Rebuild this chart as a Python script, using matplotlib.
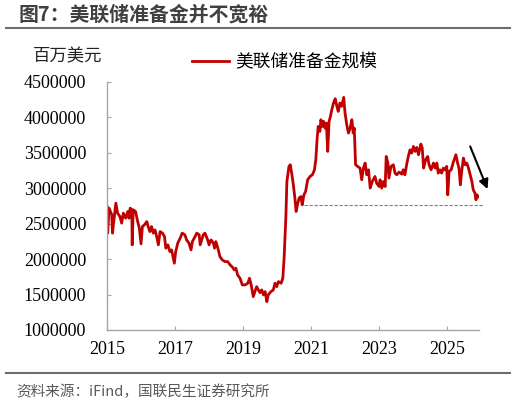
import matplotlib
matplotlib.use("Agg")
import matplotlib.pyplot as plt
from matplotlib.lines import Line2D

# Fed reserve balances, million USD (decimal year)
dates = [
    2015.00, 2015.02, 2015.06, 2015.14, 2015.16, 2015.26, 2015.31, 2015.38, 2015.43, 2015.48,
    2015.55, 2015.61, 2015.65, 2015.68, 2015.73, 2015.74, 2015.77, 2015.84, 2015.89, 2015.95,
    2016.00, 2016.04, 2016.10, 2016.17, 2016.21, 2016.26, 2016.31, 2016.36, 2016.41, 2016.46,
    2016.51, 2016.56, 2016.63, 2016.69, 2016.73, 2016.79, 2016.85, 2016.90, 2016.95, 2016.98,
    2017.02, 2017.08, 2017.15, 2017.21, 2017.29, 2017.34, 2017.41, 2017.47, 2017.51, 2017.59,
    2017.64, 2017.71, 2017.74, 2017.83, 2017.88, 2017.96, 2018.00, 2018.06, 2018.13, 2018.16,
    2018.20, 2018.26, 2018.32, 2018.39, 2018.47, 2018.55, 2018.62, 2018.69, 2018.74, 2018.79,
    2018.84, 2018.91, 2018.98, 2019.06, 2019.14, 2019.19, 2019.24, 2019.30, 2019.35, 2019.40,
    2019.45, 2019.50, 2019.55, 2019.60, 2019.65, 2019.70, 2019.74, 2019.82, 2019.89, 2019.94,
    2019.99, 2020.04, 2020.12, 2020.17, 2020.21, 2020.26, 2020.29, 2020.35, 2020.39, 2020.43,
    2020.48, 2020.53, 2020.56, 2020.61, 2020.65, 2020.70, 2020.74, 2020.79, 2020.84, 2020.90,
    2020.97, 2021.04, 2021.10, 2021.14, 2021.18, 2021.21, 2021.26, 2021.29, 2021.33, 2021.37,
    2021.41, 2021.45, 2021.49, 2021.53, 2021.57, 2021.61, 2021.66, 2021.71, 2021.76, 2021.80,
    2021.85, 2021.90, 2021.96, 2022.00, 2022.05, 2022.10, 2022.15, 2022.20, 2022.24, 2022.27,
    2022.31, 2022.37, 2022.44, 2022.49, 2022.54, 2022.59, 2022.64, 2022.69, 2022.74, 2022.80,
    2022.88, 2022.93, 2023.00, 2023.03, 2023.08, 2023.13, 2023.18, 2023.21, 2023.26, 2023.29,
    2023.35, 2023.42, 2023.47, 2023.52, 2023.59, 2023.67, 2023.71, 2023.76, 2023.81, 2023.86,
    2023.91, 2023.96, 2024.01, 2024.06, 2024.11, 2024.16, 2024.23, 2024.27, 2024.31, 2024.37,
    2024.43, 2024.47, 2024.53, 2024.60, 2024.65, 2024.70, 2024.74, 2024.79, 2024.84, 2024.89,
    2024.94, 2024.99, 2025.02, 2025.06, 2025.12, 2025.19, 2025.26, 2025.31, 2025.35, 2025.39,
    2025.43, 2025.48, 2025.53, 2025.58, 2025.63, 2025.68, 2025.73, 2025.77, 2025.82, 2025.85,
    2025.88, 2025.92,
]
reserves = [
    2740000, 2365000, 2718000, 2623000, 2365000, 2788000, 2647000, 2599000, 2506000, 2647000,
    2576000, 2670000, 2576000, 2718000, 2694000, 2200000, 2694000, 2670000, 2552000, 2435000,
    2214000, 2458000, 2482000, 2528000, 2458000, 2387000, 2458000, 2365000, 2411000, 2317000,
    2200000, 2387000, 2365000, 2317000, 2153000, 2200000, 2105000, 2129000, 2012000, 1941000,
    2105000, 2224000, 2294000, 2365000, 2341000, 2270000, 2224000, 2129000, 2246000, 2317000,
    2365000, 2341000, 2200000, 2341000, 2365000, 2270000, 2200000, 2270000, 2224000, 2153000,
    2246000, 2153000, 2034000, 1988000, 1964000, 1964000, 1917000, 1885000, 1847000, 1871000,
    1776000, 1730000, 1635000, 1635000, 1659000, 1730000, 1635000, 1470000, 1541000, 1611000,
    1565000, 1526000, 1565000, 1494000, 1541000, 1399000, 1494000, 1541000, 1565000, 1659000,
    1611000, 1682000, 1659000, 1730000, 2034000, 2599000, 3093000, 3305000, 3329000, 3211000,
    3046000, 2835000, 2670000, 2788000, 2859000, 2881000, 2764000, 2905000, 2952000, 3117000,
    3164000, 3188000, 3258000, 3399000, 3705000, 3869000, 3799000, 3964000, 3869000, 3940000,
    3846000, 3917000, 3517000, 3940000, 4011000, 4105000, 4199000, 4260000, 4152000, 4081000,
    4199000, 4152000, 4279000, 4058000, 3893000, 3776000, 3846000, 3964000, 3776000, 3846000,
    3329000, 3305000, 3282000, 3117000, 3282000, 3353000, 3188000, 3258000, 3000000, 3093000,
    3164000, 3070000, 3022000, 3117000, 3000000, 3093000, 3022000, 3446000, 3353000, 3141000,
    3305000, 3329000, 3211000, 3188000, 3226000, 3197000, 3258000, 3188000, 3329000, 3446000,
    3540000, 3494000, 3587000, 3517000, 3573000, 3470000, 3621000, 3564000, 3282000, 3399000,
    3446000, 3329000, 3258000, 3353000, 3282000, 3353000, 3211000, 3258000, 3211000, 3282000,
    3258000, 3305000, 2905000, 3234000, 3258000, 3375000, 3470000, 3353000, 3282000, 3046000,
    3234000, 3423000, 3329000, 3353000, 3282000, 3188000, 3093000, 2976000, 2929000, 2835000,
    2905000, 2881000,
]
ref_level = 2764000          # dashed reference line
ref_span = [2020.80, 2026.07]
arrow_from = (2025.68, 3587000)
arrow_to = (2026.19, 2986000)

year_ticks = [2015, 2017, 2019, 2021, 2023, 2025]
value_ticks = [1000000, 1500000, 2000000, 2500000, 3000000, 3500000, 4000000, 4500000]

cjk = ["Noto Sans CJK SC", "DejaVu Sans"]
serif = "Liberation Serif"
red = "#C00000"
grey = "#a6a6a6"

fig = plt.figure(figsize=(5.16, 4.01), dpi=100)
ax = fig.add_axes([0.2074, 0.1771, 0.7203, 0.6192])

ax.plot(dates, reserves, color=red, lw=2.0, label="美联储准备金规模")
ax.plot(ref_span, [ref_level, ref_level], ls=(0, (3, 1.5)), color="#7f7f7f",
        lw=0.8, clip_on=False)
ax.annotate("", xy=arrow_to, xytext=arrow_from, annotation_clip=False,
            arrowprops=dict(arrowstyle="-|>", color="black", lw=1.5,
                            mutation_scale=14, shrinkA=0, shrinkB=0))

ax.set_xlim(2015, 2025.93)
ax.set_ylim(1000000, 4500000)
ax.set_xticks(year_ticks)
ax.set_xticklabels([str(y) for y in year_ticks], fontfamily=serif, fontsize=13)
ax.set_yticks(value_ticks)
ax.set_yticklabels([str(v) for v in value_ticks], fontfamily=serif, fontsize=13)
ax.tick_params(axis="both", direction="in", length=3, color=grey, labelcolor="black")
ax.tick_params(axis="y", pad=15)
ax.tick_params(axis="x", pad=8)
for side in ["top", "right"]:
    ax.spines[side].set_visible(False)
for side in ["left", "bottom"]:
    ax.spines[side].set_color(grey)
    ax.spines[side].set_linewidth(1.0)

fig.legend(loc="center left", bbox_to_anchor=(0.372, 0.845), frameon=False,
           prop={"family": cjk, "size": 12.8}, handlelength=2.1,
           handletextpad=0.35, borderpad=0, borderaxespad=0)

fig.text(0.131, 0.859, "百万美元", ha="center", va="center",
         family=cjk, fontsize=12.5, color="#222222")

fig.text(0.035, 0.965, "图7：美联储准备金并不宽裕", ha="left", va="center",
         family=cjk, fontsize=14.3, fontweight="bold", color="#404040")
fig.add_artist(Line2D([0.012, 0.988], [0.929, 0.929], color="#6d6d6d", lw=1.5))
fig.add_artist(Line2D([0.012, 0.988], [0.069, 0.069], color="#6d6d6d", lw=1.5))
fig.text(0.031, 0.023, "资料来源：iFind，国联民生证券研究所", ha="left", va="center",
         family=cjk, fontsize=10.5, color="#595959")

fig.savefig("out.png", dpi=100)
